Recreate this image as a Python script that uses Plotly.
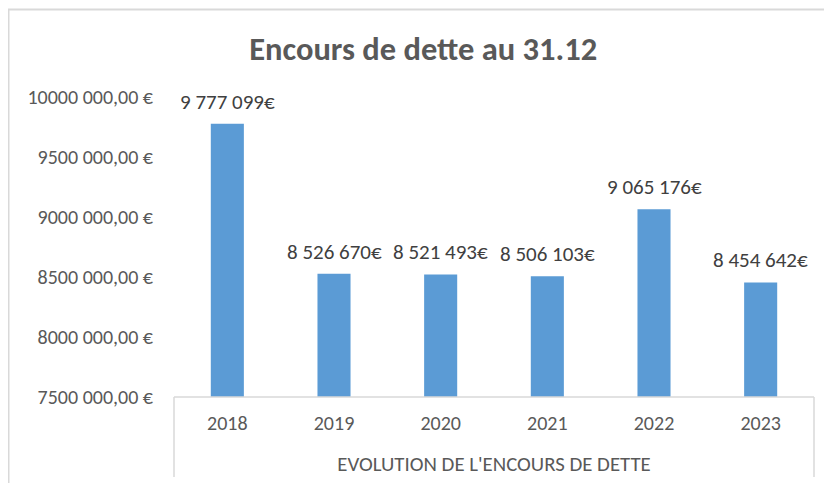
import plotly.graph_objects as go

years = ["2018", "2019", "2020", "2021", "2022", "2023"]
encours = [9777099, 8526670, 8521493, 8506103, 9065176, 8454642]
tick_values = [7500000, 8000000, 8500000, 9000000, 9500000, 10000000]
tick_labels = ["7500 000,00 €", "8000 000,00 €", "8500 000,00 €",
               "9000 000,00 €", "9500 000,00 €", "10000 000,00 €"]
title_text = "Encours de dette au 31.12"
axis_title = "EVOLUTION DE L'ENCOURS DE DETTE"

def fmt(v):
    return f"{v:,}".replace(",", " ") + "€"

FONT = "Carlito, Lato, sans-serif"
GRAY = "#595959"
LINE = "#d9d9d9"
CLEAR = "rgba(0,0,0,0)"

layout = go.Layout(
    width=832, height=483,
    margin=dict(l=166, r=26, t=89, b=94),
    paper_bgcolor="white", plot_bgcolor="white",
    showlegend=False,
    font=dict(family=FONT, size=20, color=GRAY),
    title=dict(text=f"<b>{title_text}</b>", x=0.499, xanchor="center",
               y=0.915, yanchor="middle",
               font=dict(family=FONT, size=32.5, color=GRAY)),
    bargap=0.69,
    xaxis=dict(type="category", categoryorder="array", categoryarray=years,
               range=[-0.5, 5.5], autorange=False,
               showgrid=False, showline=False, zeroline=False,
               ticks="outside", ticklen=8, tickcolor=CLEAR,
               tickfont=dict(family=FONT, size=20, color=GRAY),
               title=dict(text=axis_title, standoff=22,
                          font=dict(family=FONT, size=20.8, color=GRAY))),
    yaxis=dict(range=[7500000, 10000000], autorange=False,
               tickvals=tick_values,
               ticktext=tick_labels, showgrid=False, zeroline=False,
               showline=False, ticks="outside", ticklen=16, tickcolor=CLEAR,
               tickfont=dict(family=FONT, size=20, color=GRAY)),
)

fig = go.Figure(layout=layout)
fig.add_trace(go.Bar(
    x=years, y=encours,
    marker=dict(color="#5b9bd5", line=dict(width=0)),
))

# data labels: x given as category index so the category axis does not
# read "2018" as a position number
for i, v in enumerate(encours):
    fig.add_annotation(x=i, y=v, xref="x", yref="y", text=fmt(v),
                       showarrow=False, yanchor="middle", yshift=22,
                       font=dict(family=FONT, size=21, color="#404040"))

# outer chart border
fig.add_shape(type="rect", xref="paper", yref="paper",
              x0=-0.2586, x1=1.06, y0=-0.33, y1=1.2917,
              line=dict(color=LINE, width=2), layer="below")
# category axis box
for xp in (0, 1):
    fig.add_shape(type="line", xref="paper", yref="paper",
                  x0=xp, x1=xp, y0=0, y1=-0.267,
                  line=dict(color=LINE, width=1.5))
fig.add_shape(type="line", xref="paper", yref="paper",
              x0=0, x1=1, y0=0, y1=0,
              line=dict(color=LINE, width=1.5))

fig.write_html("out.html")
